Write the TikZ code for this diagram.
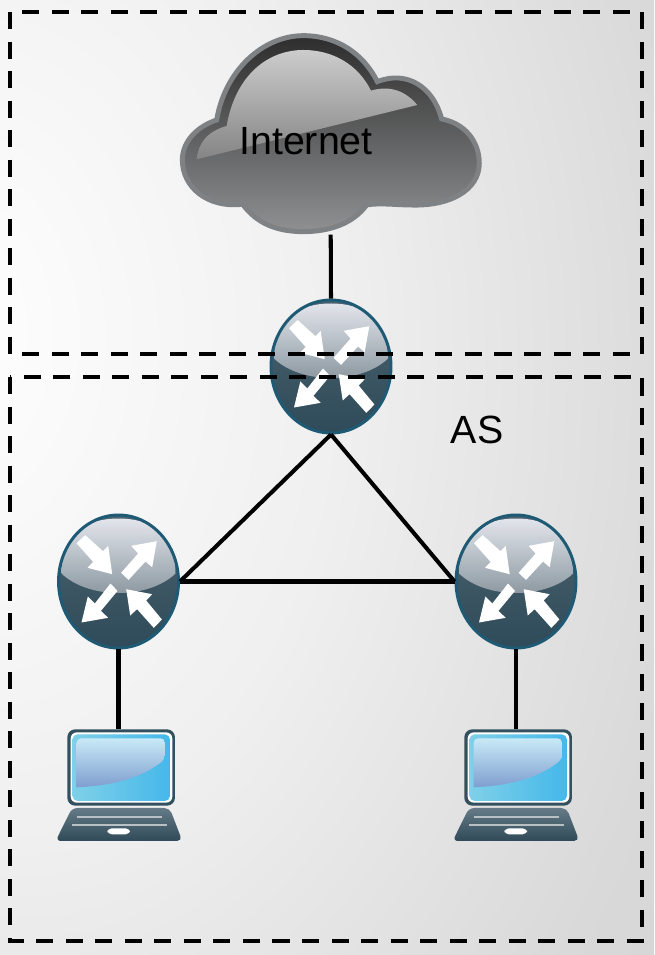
\documentclass[tikz,border=0pt]{standalone}
\usepackage{fontspec}
\setmainfont{Liberation Sans}
\usetikzlibrary{shapes.geometric}

\definecolor{rimblue}{HTML}{1F5A75}
\definecolor{routerhi}{HTML}{E6E8EE}
\definecolor{routerglass}{HTML}{76848F}
\definecolor{routermid}{HTML}{4F626D}
\definecolor{routertop}{HTML}{4A6371}
\definecolor{routerbot}{HTML}{2F4A58}
\definecolor{cloudrim}{HTML}{7F8284}
\definecolor{cloudtop}{HTML}{2E2D2D}
\definecolor{cloudmid}{HTML}{5E5E5E}
\definecolor{cloudbot}{HTML}{8E9092}
\definecolor{lapframe}{HTML}{33505F}
\definecolor{lapleft}{HTML}{7FD0E8}
\definecolor{lapright}{HTML}{45B8EA}
\definecolor{glosstop}{HTML}{C8E9F6}
\definecolor{glossbot}{HTML}{7F9ED0}
\definecolor{keyline}{HTML}{B8C0C4}

\pgfdeclareradialshading{bgfade}{\pgfpoint{-30bp}{8bp}}{%
  rgb(0bp)=(1,1,1);
  rgb(25bp)=(.94,.94,.94);
  rgb(48bp)=(.85,.85,.85);
  rgb(60bp)=(.83,.83,.83);
  rgb(130bp)=(.83,.83,.83)}

\newcommand{\routerface}{%
  \shade[top color=routerhi,middle color=routerglass,bottom color=routermid]
  (-57,-8) .. controls (-57,-50) and (-30,-63) .. (0,-63)
  .. controls (30,-63) and (57,-50) .. (57,-8)
  .. controls (30,18) and (-30,18) .. cycle;
  \fill[white] (-42,-38.3) -- (-33.3,-46.4) -- (-15.6,-30.4) -- (-10.3,-35.7)
  -- (-6.3,-7.3) -- (-31,-13.7) -- (-25.4,-19.6) -- cycle;
  \fill[white] (38.3,-40.3) -- (12.7,-35.7) -- (19.6,-28) -- (2.6,-8.7)
  -- (10,-1.6) -- (27,-20) -- (33.7,-14.3) -- cycle;
  \fill[white] (-37,41) -- (-30.7,15) -- (-23.7,22) -- (-8,2)
  -- (-1,9.4) -- (-17.6,29.4) -- (-10.3,36.3) -- cycle;
  \fill[white] (7.7,7.7) -- (33.7,12.7) -- (27.7,19) -- (43.4,38)
  -- (35.3,46.4) -- (18.6,27.7) -- (11.7,34) -- cycle;
}

\tikzset{
  dashbox/.style={draw=black,line width=2.4pt,dash pattern=on 9.7pt off 7.1pt},
  linkline/.style={draw=black,line width=2.3pt},
  routerbox/.style={ellipse,draw=rimblue,line width=1.7pt,inner sep=0pt,
    top color=routertop,bottom color=routerbot,
    minimum width=2.4cm,minimum height=2.66cm,path picture={\routerface}},
  labeltext/.style={font=\fontsize{22.4pt}{24pt}\selectfont,inner sep=0pt},
  pics/cloud/.style={code={
    \begin{scope}[scale=0.3333]
      \shade[top color=cloudtop,middle color=cloudmid,bottom color=cloudbot,
             draw=cloudrim,line width=2.8pt]
      (400,635) .. controls (320,635) and (260,610) .. (218,553)
      .. controls (110,565) and (37,500) .. (37,420)
      .. controls (37,365) and (80,320) .. (140,300)
      .. controls (165,150) and (280,47) .. (400,47)
      .. controls (500,47) and (580,100) .. (622,185)
      .. controls (710,150) and (790,200) .. (815,297)
      .. controls (885,310) and (928,365) .. (928,430)
      .. controls (928,510) and (840,560) .. (720,555)
      .. controls (680,555) and (630,548) .. (590,555)
      .. controls (550,610) and (480,635) .. (400,635) -- cycle;
      \shade[top color=black!20,bottom color=black!48]
      (80,418) -- (742,255)
      .. controls (700,205) and (650,198) .. (603,212)
      .. controls (565,135) and (490,90) .. (400,90)
      .. controls (290,90) and (195,170) .. (170,318)
      .. controls (110,335) and (85,370) .. (80,418) -- cycle;
    \end{scope}
    \node (-box) [minimum width=6.04cm,minimum height=4.04cm,inner sep=0pt] at (160.7,113.3) {};
  }},
  pics/laptop/.style={code={
    \begin{scope}[scale=0.3333]
      \fill[lapframe,rounded corners=4.5pt] (82,43) rectangle (405,272);
      \fill[white,rounded corners=3.5pt] (92,52) rectangle (397,263);
      \shade[left color=lapleft,right color=lapright,rounded corners=3pt]
      (97,58) rectangle (390,258);
      \shade[top color=glosstop,bottom color=glossbot,rounded corners=2.5pt]
      (110,217) -- (110,70) -- (375,70) -- (375,133) [sharp corners]
      .. controls (300,190) and (220,212) .. (110,217) -- cycle;
      \shade[top color=routertop!85!white,bottom color=routerbot,rounded corners=3pt]
      (96,279) -- (389,279) -- (427,378) -- (47,378) -- cycle;
      \draw[keyline,line width=1pt] (110,305) -- (365,305);
      \draw[keyline,line width=1pt] (97,329) -- (380,329);
      \fill[white,rounded corners=2.5pt] (202,340) rectangle (270,358);
    \end{scope}
    \node (-box) [minimum width=2.48cm,minimum height=2.24cm,inner sep=0pt] at (79,70) {};
  }}
}

\begin{document}
\begin{tikzpicture}[x=0.02cm,y=-0.02cm]

  % page with its grey fade
  \useasboundingbox (0,0) rectangle (654,955);
  \shade[shading=bgfade] (0,0) rectangle (654,955);

  \pic (inet) at (170,20) {cloud};
  \node (inettext) [labeltext] at (306,141) {Internet};

  \node (rtop) [routerbox] at (331,366.5) {};
  \node (rleft) [routerbox] at (118.5,581.5) {};
  \node (rright) [routerbox] at (516,581.5) {};

  \pic (lapl) at (40,715) {laptop};
  \pic (lapr) at (437,715) {laptop};

  \node (astext) [labeltext] at (477,430) {AS};

  \draw[linkline] (inet-box.south) -- (rtop.north);
  \draw[linkline] (rtop.south) -- (rleft.east);
  \draw[linkline] (rtop.south) -- (rright.west);
  \draw[linkline] (rleft.east) -- (rright.west);
  \draw[linkline] (rleft.south) -- (lapl-box.north -| rleft.south);
  \draw[linkline] (rright.south) -- (lapr-box.north -| rright.south);

  \draw[dashbox] (10,12) rectangle (642,354);
  \draw[dashbox] (10,377) rectangle (642,941);

\end{tikzpicture}
\end{document}
